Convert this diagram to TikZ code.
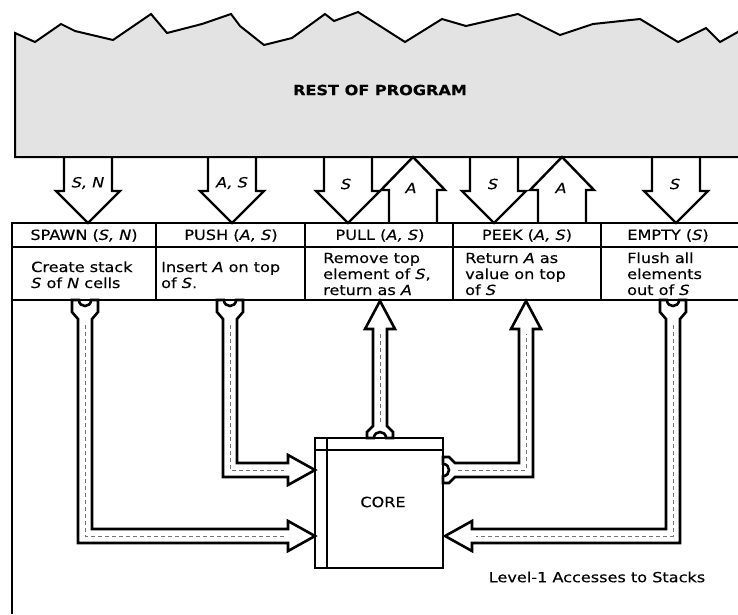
\documentclass[tikz,border=0pt]{standalone}
\usepackage{fontspec}
\setmainfont{DejaVu Sans}[FakeStretch=1.15,FakeBold=0.3]
\begin{document}
\begin{tikzpicture}[x=1pt,y=-1pt,
  frame/.style={line width=2pt},
  blockarrow/.style={draw, line width=2.4pt, line join=miter},
  hollow/.style={draw, line width=2.6pt, fill=white, line join=miter},
  centre/.style={draw=black!55, line width=0.6pt, dash pattern=on 4pt off 3pt},
  txt/.style={font=\fontsize{14}{16}\selectfont, inner sep=0pt},
  desc/.style={txt, align=left, anchor=base west}]
\useasboundingbox (0,0) rectangle (738,614);
\clip (0,0) rectangle (738,614);

% cloud
\draw[line width=2pt, fill=black!11] (15,157) -- (15,33) -- (35,42) -- (61,24) -- (75,31) -- (113,40)
  -- (151,14) -- (167,33) -- (202,24) -- (231,14) -- (240,26) -- (264,45) -- (292,38) -- (325,14)
  -- (334,21) -- (358,12) -- (405,42) -- (442,19) -- (466,26) -- (518,14) -- (560,35) -- (593,24)
  -- (640,19) -- (678,42) -- (706,28) -- (720,42) -- (745,28) -- (745,157) -- cycle;
\node[font=\bfseries\fontsize{14}{16}\selectfont] (rest) at (380,90) {REST OF PROGRAM};

% upper block arrows
\foreach \c in {88,232,348,494,676}
  \draw[blockarrow] (\c-24,157) -- (\c-24,191) -- (\c-32,191) -- (\c,223) -- (\c+32,191) -- (\c+24,191) -- (\c+24,157);
\foreach \c in {413,562}
  \draw[blockarrow] (\c-24,223) -- (\c-24,190) -- (\c-32,190) -- (\c,157) -- (\c+32,190) -- (\c+24,190) -- (\c+24,223);
\node[txt] (lsn) at (88,183) {\textit{S, N}};
\node[txt] (las) at (232,183) {\textit{A, S}};
\node[txt] (ls1) at (346,184) {\textit{S}};
\node[txt] (la1) at (411,188) {\textit{A}};
\node[txt] (ls2) at (493,184) {\textit{S}};
\node[txt] (la2) at (561,188) {\textit{A}};
\node[txt] (ls3) at (675,184) {\textit{S}};

% table
\draw[frame] (12,223) -- (745,223);
\draw[frame] (12,247) -- (745,247);
\draw[frame] (12,300) -- (745,300);
\draw[frame] (12,222) -- (12,614);
\foreach \x in {156,305,453,601}
  \draw[frame] (\x,223) -- (\x,300);

\node[txt] (h1) at (84,235.5) {SPAWN (\textit{S, N})};
\node[txt] (h2) at (231,235.5) {PUSH (\textit{A, S})};
\node[txt] (h3) at (380,235.5) {PULL (\textit{A, S})};
\node[txt] (h4) at (527,235.5) {PEEK (\textit{A, S})};
\node[txt] (h5) at (668,235.5) {EMPTY (\textit{S})};

\node[desc] (d1) at (31,288) {Create stack\\\textit{S} of \textit{N} cells};
\node[desc] (d2) at (161,288) {Insert \textit{A} on top\\of \textit{S}.};
\node[desc] (d3) at (323,295) {Remove top\\element of \textit{S},\\return as \textit{A}};
\node[desc] (d4) at (465,295) {Return \textit{A} as\\value on top\\of \textit{S}};
\node[desc] (d5) at (627,295) {Flush all\\elements\\out of \textit{S}};

% core
\draw[frame] (315,438) rectangle (443,568);
\draw[frame] (327,438) -- (327,568);
\draw[frame] (315,450) -- (443,450);
\node[txt] (core) at (383,502) {CORE};

% lower hollow arrows
% SPAWN -> core
\draw[hollow] (72,300) -- (72,312) -- (78,319) -- (78,543) -- (288,543) -- (288,551) -- (315,536)
  -- (288,521) -- (288,529) -- (92,529) -- (92,319) -- (98,312) -- (98,300) -- (91,300)
  .. controls (91,308) and (79,308) .. (79,300) -- cycle;
\draw[centre] (85,325) -- (85,536) -- (284,536);
% PUSH -> core
\draw[hollow] (217,300) -- (217,312) -- (223,319) -- (223,477) -- (288,477) -- (288,485) -- (315,470)
  -- (288,455) -- (288,463) -- (237,463) -- (237,319) -- (243,312) -- (243,300) -- (236,300)
  .. controls (236,308) and (224,308) .. (224,300) -- cycle;
\draw[centre] (230,325) -- (230,470) -- (284,470);
% core -> PULL
\draw[hollow] (365,329) -- (380,301) -- (395,329) -- (387,329) -- (387,426) -- (393,432)
  -- (393,438) -- (386,438) .. controls (386,430) and (374,430) .. (374,438)
  -- (367,438) -- (367,432) -- (373,426) -- (373,329) -- cycle;
\draw[centre] (380,334) -- (380,424);
% core -> PEEK
\draw[hollow] (443,457) -- (449,457) -- (455,463) -- (519,463) -- (519,329) -- (511,329) -- (526,301)
  -- (541,329) -- (533,329) -- (533,477) -- (455,477) -- (449,483) -- (443,483) -- (443,476)
  .. controls (451,476) and (451,464) .. (443,464) -- cycle;
\draw[centre] (458,470) -- (526,470) -- (526,334);
% EMPTY -> core
\draw[hollow] (660,300) -- (660,312) -- (666,319) -- (666,529) -- (472,529) -- (472,521) -- (445,536)
  -- (472,551) -- (472,543) -- (680,543) -- (680,319) -- (686,312) -- (686,300) -- (679,300)
  .. controls (679,308) and (667,308) .. (667,300) -- cycle;
\draw[centre] (673,325) -- (673,536) -- (476,536);

\node[txt] (cap) at (597,577) {Level-1 Accesses to Stacks};
\end{tikzpicture}
\end{document}
